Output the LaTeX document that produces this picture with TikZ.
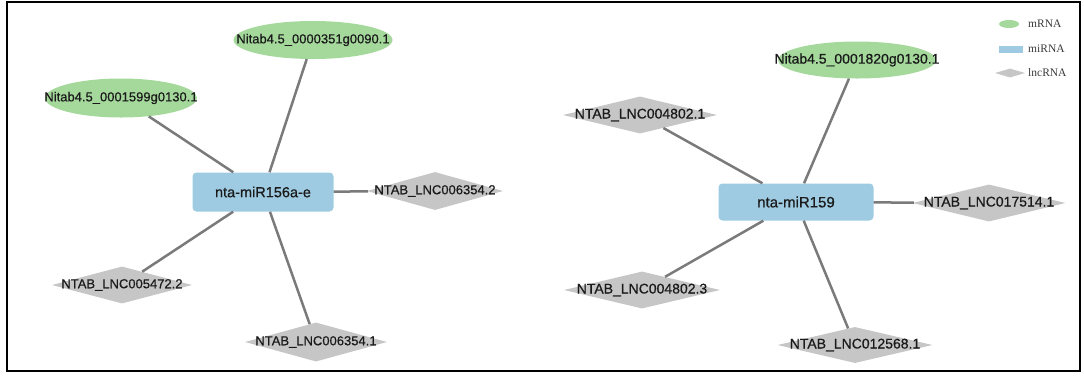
\documentclass[tikz,border=0pt]{standalone}
\usepackage{fontspec}
\setmainfont{Liberation Sans}
\newfontfamily\labfont[FakeBold=0.6]{Liberation Sans}
\newfontfamily\legfont{Liberation Serif}
\usetikzlibrary{shapes.geometric}
\definecolor{mgreen}{HTML}{A5D99C}
\definecolor{mblue}{HTML}{9ECBE2}
\definecolor{lgray}{HTML}{C6C6C6}
\definecolor{egray}{HTML}{7A7A7A}
\definecolor{txt}{HTML}{1A1A1A}
\definecolor{legtxt}{HTML}{3A3A3A}
\begin{document}
\begin{tikzpicture}[x=1pt,y=-1pt,
  mrna/.style={ellipse, fill=mgreen, inner sep=0pt},
  mirna/.style={rectangle, rounded corners=4pt, fill=mblue, inner sep=0pt},
  lnc/.style={diamond, fill=lgray, inner sep=0pt},
  labL/.style={text=txt, font=\labfont\fontsize{13}{13}\selectfont},
  labR/.style={text=txt, font=\labfont\fontsize{14}{14}\selectfont},
  labBL/.style={text=txt, font=\labfont\fontsize{14.5}{14.5}\selectfont},
  labBR/.style={text=txt, font=\labfont\fontsize{15}{15}\selectfont},
  edge/.style={draw=egray, line width=2.5pt},
  legtext/.style={anchor=west, text=legtxt, inner sep=0pt, font=\legfont\fontsize{11.5}{11.5}\selectfont},
]
\useasboundingbox (0,0) rectangle (1084,376);
\draw[line width=1.6pt] (7,2) rectangle (1080,371);

% left network
\node[mirna, minimum width=141pt, minimum height=39pt, label={[labBL]center:nta-miR156a-e}] (b1) at (263,192) {};
\node[mrna, minimum width=159pt, minimum height=38pt, label={[labL]center:Nitab4.5\_0000351g0090.1}] (m1) at (313,40) {};
\node[mrna, minimum width=152pt, minimum height=39pt, label={[labL]center:Nitab4.5\_0001599g0130.1}] (m2) at (121,98) {};
\node[lnc, minimum width=136pt, minimum height=38pt, label={[labL]center:NTAB\_LNC006354.2}] (d1) at (435,191) {};
\node[lnc, minimum width=140pt, minimum height=37pt, label={[labL]center:NTAB\_LNC005472.2}] (d2) at (122,285) {};
\node[lnc, minimum width=142pt, minimum height=39pt, label={[labL]center:NTAB\_LNC006354.1}] (d3) at (316,342) {};

\draw[edge] (b1) -- (m1);
\draw[edge] (b1) -- (m2);
\draw[edge] (b1) -- (d1);
\draw[edge] (b1) -- (d2);
\draw[edge] (b1) -- (d3);

% right network
\node[mirna, minimum width=155pt, minimum height=37pt, label={[labBR]center:nta-miR159}] (b2) at (796,202) {};
\node[mrna, minimum width=158pt, minimum height=37pt, label={[labR]center:Nitab4.5\_0001820g0130.1}] (m3) at (857,60) {};
\node[lnc, minimum width=154pt, minimum height=37pt, label={[labR]center:NTAB\_LNC004802.1}] (d4) at (640,115) {};
\node[lnc, minimum width=156pt, minimum height=37pt, label={[labR]center:NTAB\_LNC004802.3}] (d5) at (642,290) {};
\node[lnc, minimum width=153pt, minimum height=37pt, label={[labR]center:NTAB\_LNC017514.1}] (d6) at (989,203) {};
\node[lnc, minimum width=155pt, minimum height=36pt, label={[labR]center:NTAB\_LNC012568.1}] (d7) at (855,345) {};

\draw[edge] (b2) -- (m3);
\draw[edge] (b2) -- (d4);
\draw[edge] (b2) -- (d5);
\draw[edge] (b2) -- (d6);
\draw[edge] (b2) -- (d7);

% legend
\node[mrna, minimum width=20pt, minimum height=8pt] (lg1) at (1009,24) {};
\node[legtext] (lt1) at (1028,24) {mRNA};
\node[rectangle, fill=mblue, inner sep=0pt, minimum width=24pt, minimum height=7pt] (lg2) at (1011,49) {};
\node[legtext] (lt2) at (1028,49) {miRNA};
\node[lnc, minimum width=30pt, minimum height=9pt] (lg3) at (1010,73) {};
\node[legtext] (lt3) at (1028,73) {lncRNA};
\end{tikzpicture}
\end{document}
